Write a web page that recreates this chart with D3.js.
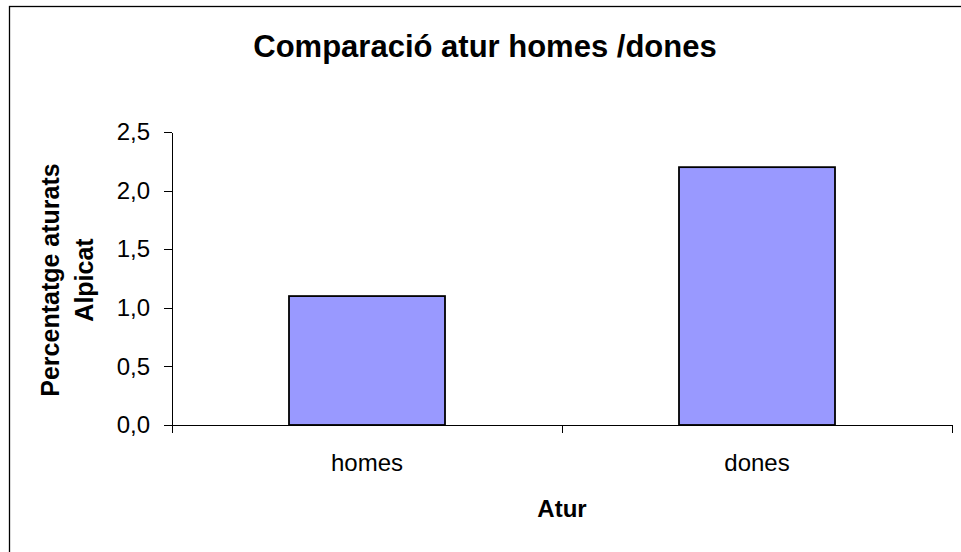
<!DOCTYPE html>
<html>
<head>
<meta charset="utf-8">
<script src="https://cdn.jsdelivr.net/npm/d3@7"></script>
<style>
   body { margin: 0; background: #fff; }
   svg { display: block; font-family: "Liberation Sans", Arial, sans-serif; }
   .axis path, .axis line { stroke: #000; shape-rendering: crispEdges; }
   .axis text { fill: #000; font-size: 24px; }
</style>
</head>
<body>
<div id="mainChart"></div>
<script>
// Chart data
const categories = ["homes", "dones"]
const values = [1.1, 2.2]
const yTicks = [0, 0.5, 1.0, 1.5, 2.0, 2.5]

const chartTitle = "Comparació atur homes /dones"
const yTitle = ["Percentatge aturats", "Alpicat"]
const xTitle = "Atur"

const fullWidth = 961, fullHeight = 552
const margin = { top: 132, right: 9, bottom: 127, left: 172 }
const width = fullWidth - margin.left - margin.right
const height = fullHeight - margin.top - margin.bottom

const svg = d3.select("#mainChart").append("svg")
   .attr("width", fullWidth)
   .attr("height", fullHeight)

// Outer chart frame (cut off on the right and bottom like the source)
svg.append("rect")
   .attr("x", 9.5)
   .attr("y", 6.5)
   .attr("width", 1200)
   .attr("height", 800)
   .attr("fill", "none")
   .attr("stroke", "#000")
   .attr("stroke-width", 1.3)

svg.append("text")
   .attr("x", 485)
   .attr("y", 57)
   .attr("text-anchor", "middle")
   .style("font-size", "31px")
   .style("font-weight", "bold")
   .text(chartTitle)

const g = svg.append("g")
   .attr("transform", "translate(" + margin.left + "," + margin.top + ")")

// Scales
let x = d3.scaleBand()
   .domain(categories)
   .range([0, width])
   .padding(0)

let y = d3.scaleLinear()
   .domain([0, 2.5])
   .range([height, 0])

// Bars
const barWidth = x.bandwidth() * 0.4
g.selectAll("rect.bar").data(values)
   .join("rect")
   .attr("class", "bar")
   .attr("x", (d, i) => x(categories[i]) + (x.bandwidth() - barWidth) / 2)
   .attr("y", d => y(d))
   .attr("width", barWidth)
   .attr("height", d => height - y(d))
   .attr("fill", "#9999ff")
   .attr("stroke", "#000")
   .attr("stroke-width", 1.8)

// Y axis
let yAxis = d3.axisLeft(y)
   .tickValues(yTicks)
   .tickFormat(d => d.toFixed(1).replace(".", ","))
   .tickSize(8)
   .tickPadding(14)
   .tickSizeOuter(0)

g.append("g")
   .attr("class", "y axis")
   .call(yAxis)

// X axis: labels at band centres, tick marks at band boundaries
let xAxis = d3.axisBottom(x)
   .tickSize(0)
   .tickSizeOuter(0)
   .tickPadding(29)

const xAxisG = g.append("g")
   .attr("class", "x axis")
   .attr("transform", "translate(0," + height + ")")
   .call(xAxis)

const edges = categories.map(c => x(c)).concat([x(categories[categories.length - 1]) + x.step()])
xAxisG.selectAll("line.edge").data(edges)
   .join("line")
   .attr("class", "edge")
   .attr("x1", d => d).attr("x2", d => d)
   .attr("y1", 0).attr("y2", 8)
   .attr("stroke", "#666")

// Axis titles
const yTitleText = svg.append("text")
   .attr("transform", "translate(0,280) rotate(-90)")
   .attr("text-anchor", "middle")
   .style("font-size", "25px")
   .style("font-weight", "bold")

yTitleText.selectAll("tspan").data(yTitle)
   .join("tspan")
   .attr("x", 0)
   .attr("y", (d, i) => i === 0 ? 59 : 93)
   .text(d => d)

svg.append("text")
   .attr("x", margin.left + width / 2)
   .attr("y", 517)
   .attr("text-anchor", "middle")
   .style("font-size", "24px")
   .style("font-weight", "bold")
   .text(xTitle)
</script>
</body>
</html>
